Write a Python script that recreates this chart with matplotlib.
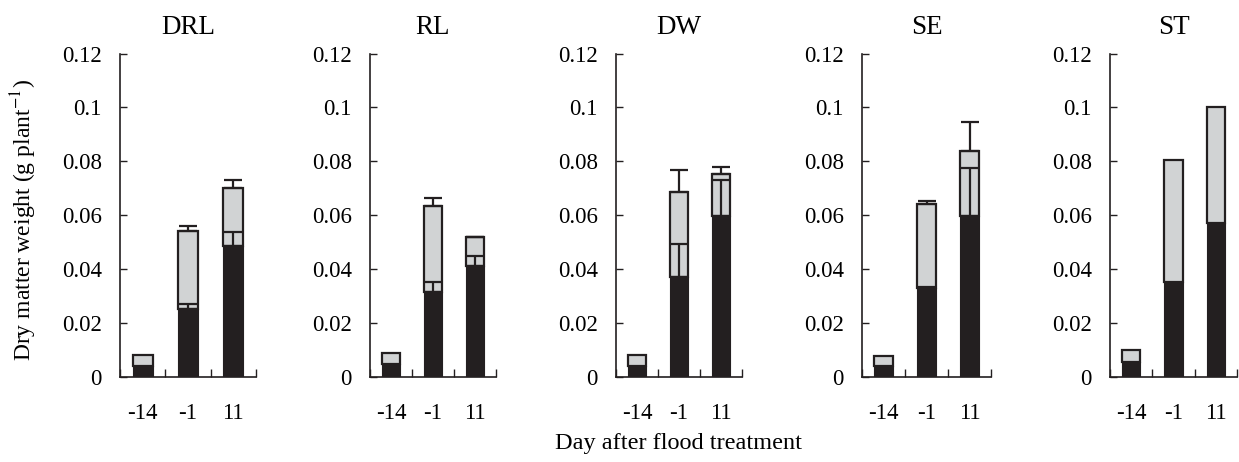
import matplotlib
matplotlib.use("Agg")
import matplotlib.pyplot as plt
import numpy as np

plt.rcParams["font.family"] = ["Liberation Serif", "DejaVu Serif"]
plt.rcParams["mathtext.fontset"] = "stix"

# Data (g plant-1)
days = ["-14", "-1", "11"]
panels = ["DRL", "RL", "DW", "SE", "ST"]

# lower (black) part and total height (black + grey)
drl_lower = [0.0041, 0.0252, 0.0487]
drl_total = [0.0082, 0.0540, 0.0702]
drl_lower_err = [0.0, 0.0018, 0.0052]
drl_total_err = [0.0, 0.0021, 0.0030]

rl_lower = [0.0047, 0.0313, 0.0410]
rl_total = [0.0087, 0.0632, 0.0517]
rl_lower_err = [0.0, 0.0037, 0.0038]
rl_total_err = [0.0, 0.0030, 0.0002]

dw_lower = [0.0041, 0.0372, 0.0598]
dw_total = [0.0082, 0.0687, 0.0752]
dw_lower_err = [0.0, 0.0120, 0.0133]
dw_total_err = [0.0, 0.0080, 0.0026]

se_lower = [0.0041, 0.0330, 0.0596]
se_total = [0.0078, 0.0642, 0.0839]
se_lower_err = [0.0, 0.0004, 0.0178]
se_total_err = [0.0, 0.0010, 0.0108]

st_lower = [0.0056, 0.0353, 0.0570]
st_total = [0.0099, 0.0805, 0.1000]
st_lower_err = [0.0, 0.0, 0.0]
st_total_err = [0.0, 0.0, 0.0]

lowers = [drl_lower, rl_lower, dw_lower, se_lower, st_lower]
totals = [drl_total, rl_total, dw_total, se_total, st_total]
lower_errs = [drl_lower_err, rl_lower_err, dw_lower_err, se_lower_err, st_lower_err]
total_errs = [drl_total_err, rl_total_err, dw_total_err, se_total_err, st_total_err]

dark = "#231f20"
grey = "#d1d3d4"

W, H = 1239, 462
fig = plt.figure(figsize=(W / 100, H / 100), dpi=100)

lefts = [120, 370, 616, 862, 1110]
rights = [256, 496, 742, 991, 1237]
top_px, bot_px = 53.5, 376.7

x = np.arange(3) + 0.5
bw = 0.44

def draw_err(ax, xs, ys, errs):
    for xi, yi, e in zip(xs, ys, errs):
        if e > 0:
            ax.errorbar(xi, yi, yerr=[[0], [e]], fmt="none", ecolor=dark,
                        elinewidth=1.6, capsize=6.5, capthick=1.6, zorder=5)

for i in range(5):
    ax = fig.add_axes([lefts[i] / W, 1 - bot_px / H,
                       (rights[i] - lefts[i]) / W, (bot_px - top_px) / H])
    lo = np.array(lowers[i])
    tot = np.array(totals[i])
    ax.bar(x, tot - lo, bw, bottom=lo, color=grey, edgecolor=dark,
           linewidth=1.6, zorder=2)
    ax.bar(x, lo, bw, color=dark, edgecolor=dark, linewidth=0.8, zorder=3)
    draw_err(ax, x, lo, lower_errs[i])
    draw_err(ax, x, tot, total_errs[i])

    ax.set_xlim(0, 3)
    ax.set_ylim(0, 0.12)
    ax.set_yticks([0, 0.02, 0.04, 0.06, 0.08, 0.1, 0.12])
    ax.set_yticklabels(["0", "0.02", "0.04", "0.06", "0.08", "0.1", "0.12"])
    ax.set_xticks([0, 1, 2, 3])
    ax.set_xticklabels([])
    ax.set_xticks(x, minor=True)
    ax.set_xticklabels(days, minor=True)
    ax.tick_params(axis="x", which="major", direction="in", length=6,
                   width=1.0, color=dark)
    ax.tick_params(axis="x", which="minor", length=0, pad=19, labelsize=16.5)
    ax.tick_params(axis="y", direction="in", length=5, width=1.0, color=dark,
                   pad=13, labelsize=16.5)
    for s in ["top", "right"]:
        ax.spines[s].set_visible(False)
    for s in ["left", "bottom"]:
        ax.spines[s].set_color(dark)
        ax.spines[s].set_linewidth(1.2)
    ax.set_title(panels[i], fontsize=19.5, pad=14)

fig.text(24 / W, 1 - 220 / H, "Dry matter weight (g plant$^{-1}$)",
         rotation=90, ha="center", va="center", fontsize=17)
fig.text(679 / W, 1 - 444 / H, "Day after flood treatment",
         ha="center", va="center", fontsize=17.5)

fig.savefig("out.png", dpi=100)
